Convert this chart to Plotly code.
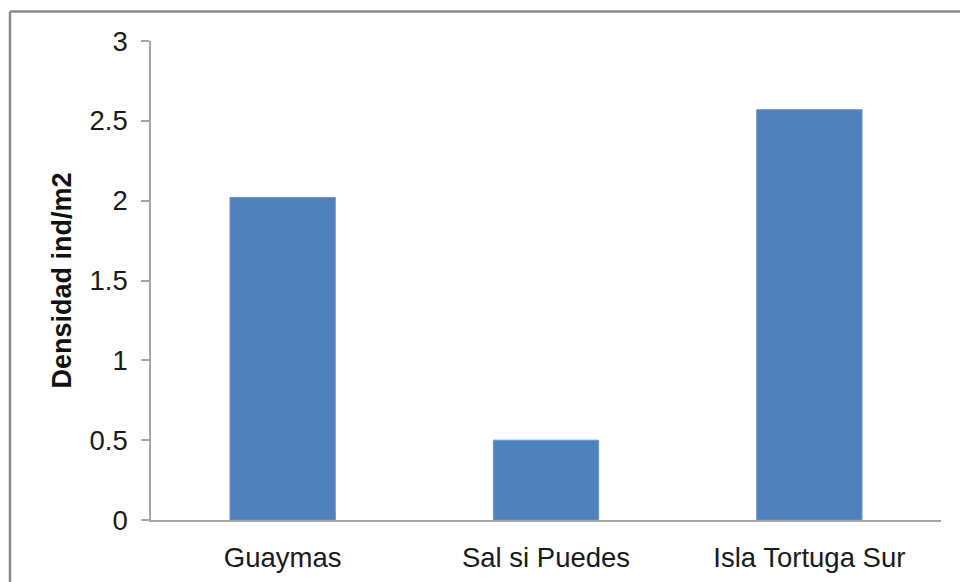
import plotly.graph_objects as go

# Densidad poblacional por sitio de muestreo
sitios = ["Guaymas", "Sal si Puedes", "Isla Tortuga Sur"]
densidad = [2.02, 0.50, 2.57]
y_ticks = [0, 0.5, 1, 1.5, 2, 2.5, 3]
y_tick_text = ["0", "0.5", "1", "1.5", "2", "2.5", "3"]

W, H = 960, 582
L, R, T, B = 151, 19, 41, 62
pw, ph = W - L - R, H - T - B

def px_x(px):
    return (px - L) / pw

def px_y(py):
    return (H - B - py) / ph

fig = go.Figure()
fig.add_trace(go.Bar(
    x=sitios,
    y=densidad,
    marker=dict(color="#4F81BD", line=dict(color="#6f97c9", width=1)),
    width=0.4,
))

axis_font = dict(family="Liberation Sans, Arial, sans-serif", size=27.5, color="#1a1a1a")

fig.update_layout(
    width=W,
    height=H,
    margin=dict(l=L, r=R, t=T, b=B, autoexpand=False),
    paper_bgcolor="white",
    plot_bgcolor="white",
    showlegend=False,
    xaxis=dict(
        showline=True,
        linecolor="#a6a6a6",
        linewidth=1.5,
        ticks="",
        showgrid=False,
        tickfont=axis_font,
        ticklabelstandoff=12,
        automargin=False,
    ),
    yaxis=dict(
        range=[0, 3],
        tickvals=y_ticks,
        ticktext=y_tick_text,
        showline=True,
        linecolor="#a6a6a6",
        linewidth=1.5,
        ticks="outside",
        ticklen=8,
        tickwidth=1.5,
        tickcolor="#a6a6a6",
        showgrid=False,
        zeroline=False,
        tickfont=axis_font,
        ticklabelstandoff=8,
        automargin=False,
        title=dict(
            text="<b>Densidad ind/m2</b>",
            font=dict(family="Liberation Sans, Arial, sans-serif", size=27, color="#111111"),
            standoff=10,
        ),
    ),
    bargap=0.6,
)

# Outer chart frame (top and left edges visible)
frame = dict(type="line", xref="paper", yref="paper",
             line=dict(color="#8a8a8a", width=2.5), layer="above")
fig.add_shape(**frame, x0=px_x(10), x1=px_x(970), y0=px_y(11.5), y1=px_y(11.5))
fig.add_shape(**frame, x0=px_x(10), x1=px_x(10), y0=px_y(11.5), y1=px_y(600))

fig.write_html("out.html")
